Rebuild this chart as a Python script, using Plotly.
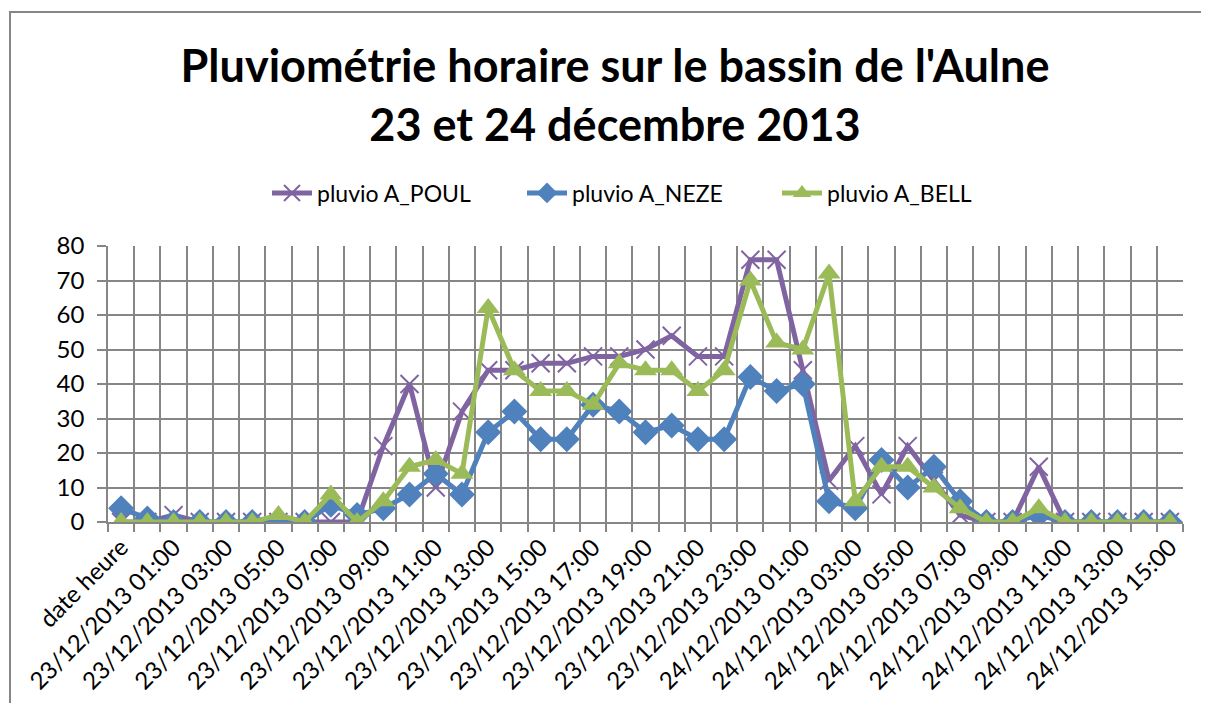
import plotly.graph_objects as go

categories = ["date heure"] + [f"23/12/2013 {h:02d}:00" for h in range(24)] + [f"24/12/2013 {h:02d}:00" for h in range(16)]

poul = [0, 0, 2, 0, 0, 0, 0, 0, 0, 0,
        22, 40, 10, 32, 44, 44, 46, 46, 48, 48,
        50, 54, 48, 48, 76, 76, 44, 12, 22, 8,
        22, 12, 2, 0, 0, 16, 0, 0, 0, 0, 0]
neze = [4, 1, 0, 0, 0, 0, 0, 0, 5, 2,
        4, 8, 14, 8, 26, 32, 24, 24, 34, 32,
        26, 28, 24, 24, 42, 38, 40, 6, 4, 18,
        10, 16, 6, 0, 0, 2, 0, 0, 0, 0, 0]
bell = [0, 0, 0, 0, 0, 0, 2, 0, 8, 0,
        6, 16, 18, 14, 62, 44, 38, 38, 34, 46,
        44, 44, 38, 44, 70, 52, 50, 72, 6, 16,
        16, 10, 4, 0, 0, 4, 0, 0, 0, 0, 0]

series_names = ["pluvio A_POUL", "pluvio A_NEZE", "pluvio A_BELL"]
title_lines = ["Pluviométrie horaire sur le bassin de l'Aulne", "23 et 24 décembre 2013"]

idx = list(range(len(categories)))
FONT = "Lato"
GRID = "#868686"

fig = go.Figure()
fig.add_trace(go.Scatter(x=idx, y=poul, name=series_names[0], mode="lines+markers",
                         line=dict(color="#8064A2", width=5),
                         marker=dict(symbol="x-thin", size=18, color="#8064A2",
                                     line=dict(color="#8064A2", width=2))))
fig.add_trace(go.Scatter(x=idx, y=neze, name=series_names[1], mode="lines+markers",
                         line=dict(color="#4F81BD", width=5),
                         marker=dict(symbol="diamond", size=20, color="#4F81BD")))
fig.add_trace(go.Scatter(x=idx, y=bell, name=series_names[2], mode="lines+markers",
                         line=dict(color="#9BBB59", width=5),
                         marker=dict(symbol="triangle-up", size=20, color="#9BBB59")))

# page has an 8px body margin: figure coords = page coords - 8
W, H = 1193, 695
L, R, T, B = 100, 18, 238, 181
pw, ph = W - L - R, H - T - B

fig.update_layout(
    width=W, height=H,
    margin=dict(l=L, r=R, t=T, b=B, autoexpand=False),
    paper_bgcolor="white", plot_bgcolor="white",
    font=dict(family=FONT, color="black", size=23),
    title=dict(text="<b>" + "<br>".join(title_lines) + "</b>",
               x=607 / W, xanchor="center", y=1 - 74 / H, yanchor="middle",
               font=dict(family=FONT, size=45, color="black")),
    legend=dict(orientation="h", x=(259 - L) / pw, xanchor="left",
                y=(H - B - 185) / ph, yanchor="middle",
                font=dict(size=23, family=FONT), itemwidth=40,
                entrywidth=200, entrywidthmode="pixels",
                bgcolor="rgba(0,0,0,0)"),
    showlegend=True,
)

fig.update_xaxes(range=[-0.5, len(categories) - 0.5],
                 tickmode="array", tickvals=idx[::2], ticktext=categories[::2],
                 tickangle=-45, ticks="", showgrid=False,
                 showline=True, linecolor=GRID, linewidth=1.5,
                 tickfont=dict(size=24, family=FONT),
                 minor=dict(tickmode="linear", tick0=-0.5, dtick=1, showgrid=True,
                            gridcolor=GRID, gridwidth=1.5, ticks="outside",
                            ticklen=8, tickcolor=GRID, tickwidth=1.5),
                 zeroline=False)
fig.update_yaxes(range=[0, 80], dtick=10, showgrid=True, gridcolor=GRID, gridwidth=1.5,
                 ticks="outside", ticklen=9, tickcolor=GRID, tickwidth=1.5,
                 showline=True, linecolor=GRID, linewidth=1.5, zeroline=False,
                 tickfont=dict(size=24, family=FONT), ticklabelstandoff=8)

# chart outer border: only left and top edges are visible in the reference
bx0 = (2 - L) / pw
bx1 = (W - L) / pw
by0 = (H - B - H) / ph
by1 = (H - B - 4) / ph
fig.add_shape(type="path", xref="paper", yref="paper",
              path=f"M {bx0} {by0} L {bx0} {by1} L {bx1} {by1}",
              line=dict(color=GRID, width=2), layer="below")

fig.write_html("out.html")
